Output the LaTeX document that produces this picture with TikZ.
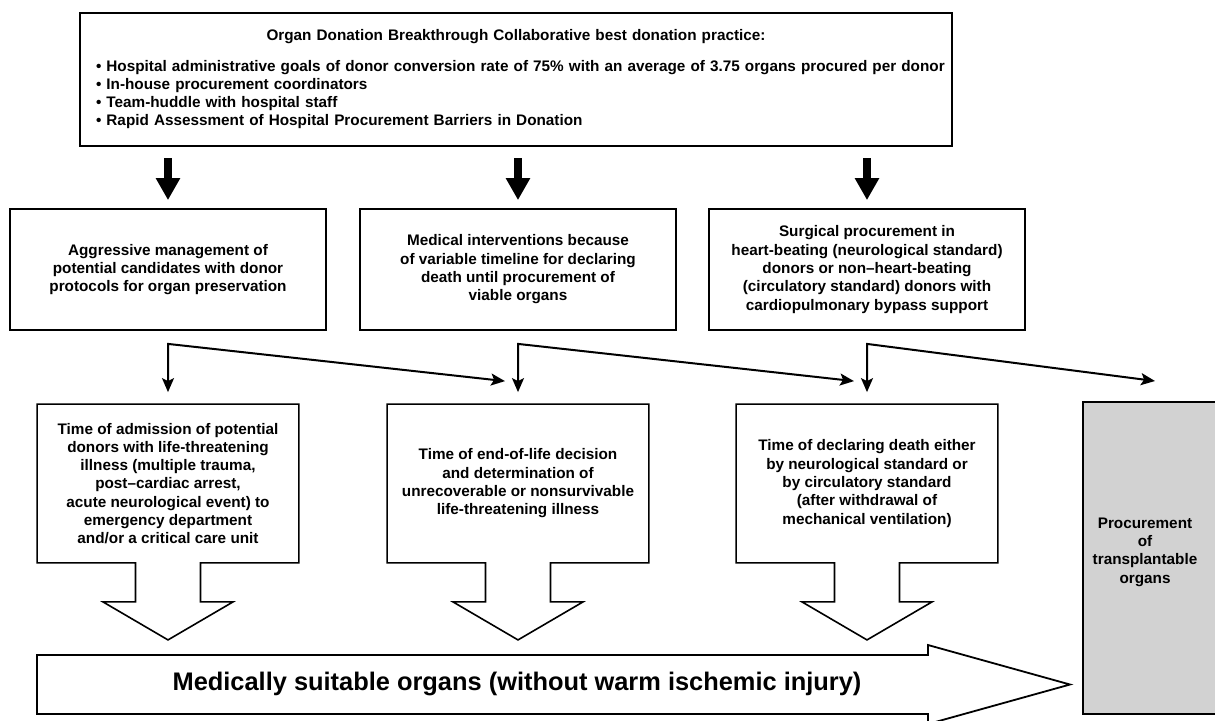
\documentclass[tikz,border=0pt]{standalone}
\usepackage{fontspec}
\setmainfont{Liberation Sans}
\usetikzlibrary{arrows.meta}

\tikzset{
  box/.style={draw, line width=0.9pt, align=center, inner sep=0pt,
    minimum width=158pt, minimum height=60.5pt,
    font=\bfseries\fontsize{7.65}{9.15}\selectfont},
  timebox/.style={box, draw=none, minimum width=130pt, minimum height=78.5pt},
  fat/.style={line width=4pt, -{Triangle[length=11pt,width=11.5pt]}},
  conn/.style={line width=1pt,
    {Stealth[length=7pt,width=6pt,inset=1.5pt]}-{Stealth[length=7pt,width=6pt,inset=1.5pt]}}
}

\begin{document}
\begin{tikzpicture}[x=0.5pt,y=-0.5pt]
\useasboundingbox (0,0) rectangle (1215,720);
\clip (0,0) rectangle (1215,720);

\node[box, minimum width=436pt, minimum height=66.5pt, text width=420pt, align=left] (goals) at (516,79.5)
  {\hfill Organ Donation Breakthrough Collaborative best donation practice:\hfill\null\\[5.9pt]
   \mbox{\textbullet\ Hospital administrative goals of donor conversion rate of 75\% with an average of 3.75 organs procured per donor}\\
   \textbullet\ In-house procurement coordinators\\
   \textbullet\ Team-huddle with hospital staff\\
   \textbullet\ Rapid Assessment of Hospital Procurement Barriers in Donation};

\node[box] (m1) at (168,269.5) {Aggressive management of\\potential candidates with donor\\protocols for organ preservation};
\node[box] (m2) at (518,269.5) {Medical interventions because\\of variable timeline for declaring\\death until procurement of\\viable organs};
\node[box] (m3) at (867,269.5) {Surgical procurement in\\heart-beating (neurological standard)\\donors or non--heart-beating\\(circulatory standard) donors with\\cardiopulmonary bypass support};

\foreach \m in {m1,m2,m3}
  \draw[fat] ([yshift=25pt]\m.north) -- ([yshift=4pt]\m.north);

\node[timebox] (t1) at (168,483.5) {Time of admission of potential\\donors with life-threatening\\illness (multiple trauma,\\post--cardiac arrest,\\acute neurological event) to\\emergency department\\and/or a critical care unit};
\node[timebox] (t2) at (518,483.5) {Time of end-of-life decision\\and determination of\\unrecoverable or nonsurvivable\\life-threatening illness};
\node[timebox] (t3) at (867,483.5) {Time of declaring death either\\by neurological standard or\\by circulatory standard\\(after withdrawal of\\mechanical ventilation)};

\foreach \t in {t1,t2,t3}
  \draw[line width=0.8pt] (\t.south west) -- (\t.north west) -- (\t.north east) -- (\t.south east)
    -- ([xshift=16.25pt]\t.south) -- ([xshift=16.25pt,yshift=-19.5pt]\t.south)
    -- ([xshift=32.5pt,yshift=-19.5pt]\t.south) -- ([yshift=-38.5pt]\t.south)
    -- ([xshift=-32.5pt,yshift=-19.5pt]\t.south) -- ([xshift=-16.25pt,yshift=-19.5pt]\t.south)
    -- ([xshift=-16.25pt]\t.south) -- cycle;

\node[draw, line width=0.9pt, fill=gray!35, anchor=north west, minimum width=72pt, minimum height=156pt, inner sep=0pt] (proc) at (1082,401) {};
\node[align=center, font=\bfseries\fontsize{7.65}{9.15}\selectfont] (proclbl) at (1145,552) {Procurement\\of\\transplantable\\organs};

\coordinate (last) at (1155,381);
\draw[conn] ([yshift=6pt]t1.north) -- ([yshift=-6.5pt]m1.south) -- ([xshift=-6.5pt,yshift=11.5pt]t2.north);
\draw[conn] ([yshift=6pt]t2.north) -- ([yshift=-6.5pt]m2.south) -- ([xshift=-6.5pt,yshift=11.5pt]t3.north);
\draw[conn] ([yshift=6pt]t3.north) -- ([yshift=-6.5pt]m3.south) -- (last);

\draw[line width=0.9pt] (37,655) -- (928,655) -- (928,645) -- (1070,684.5) -- (928,724) -- (928,714) -- (37,714) -- cycle;
\node[font=\bfseries\fontsize{12.7}{15}\selectfont] (suit) at (517,684) {Medically suitable organs (without warm ischemic injury)};
\end{tikzpicture}
\end{document}
